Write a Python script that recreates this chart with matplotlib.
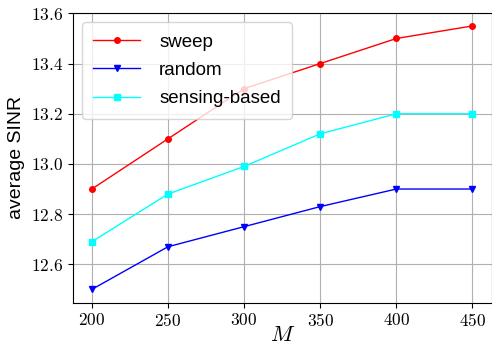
import matplotlib
matplotlib.use("Agg")
import matplotlib.pyplot as plt

# ==============================
# Data
# ==============================
M_values = [200, 250, 300, 350, 400, 450]
sinr_sweep   = [12.90, 13.10, 13.30, 13.40, 13.50, 13.55]
sinr_random  = [12.50, 12.67, 12.75, 12.83, 12.90, 12.90]
sinr_sensing = [12.69, 12.88, 12.99, 13.12, 13.20, 13.20]

plt.rcParams['mathtext.fontset'] = 'cm'
plt.rcParams['font.family'] = ['Liberation Sans', 'DejaVu Sans']

fig = plt.figure(figsize=(4.92, 3.45), dpi=100)
ax = fig.add_axes([0.148, 0.123, 0.851, 0.84])

ax.plot(M_values, sinr_sweep,   color='red',  marker='o', ms=4, lw=1, label='sweep')
ax.plot(M_values, sinr_random,  color='blue', marker='v', ms=4, lw=1, label='random')
ax.plot(M_values, sinr_sensing, color='cyan', marker='s', ms=4, lw=1, label='sensing-based')

ax.grid(True, color='#b0b0b0', lw=0.8)
ax.set_axisbelow(True)

ax.set_xticks(M_values)
ax.set_xticklabels([f'${m}$' for m in M_values], fontsize=12.5)
yt = [12.6, 12.8, 13.0, 13.2, 13.4, 13.6]
ax.set_yticks(yt)
ax.set_yticklabels([f'${v:.1f}$' for v in yt], fontsize=12.5)

ax.set_xlabel('$M$', fontsize=16, labelpad=-3)
ax.set_ylabel('average SINR', fontsize=14)

ax.legend(loc='upper left', fontsize=13.5, handlelength=2.5, borderpad=0.6,
          labelspacing=0.6, handletextpad=1.0)

fig.savefig('out.png', dpi=100)
